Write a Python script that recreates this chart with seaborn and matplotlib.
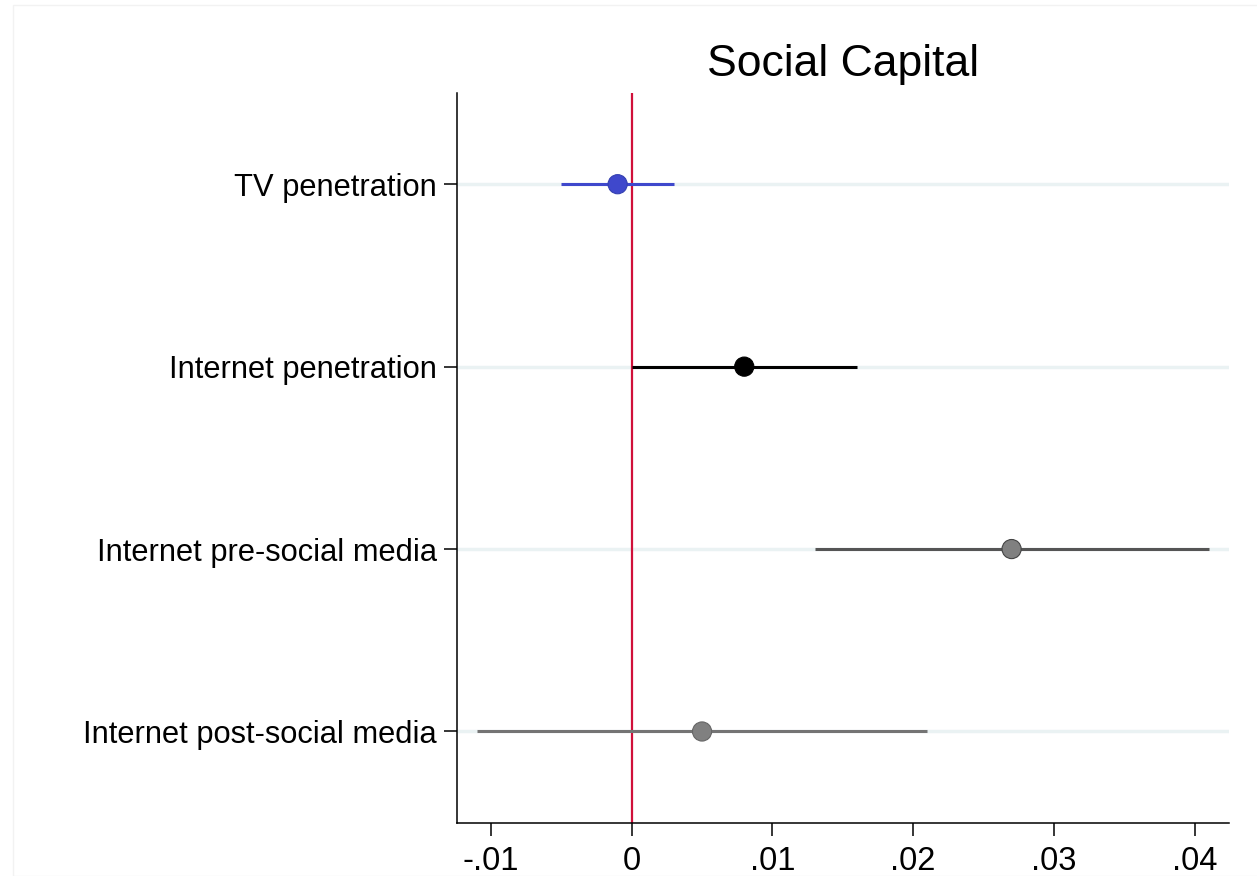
import numpy as np
import pandas as pd
import matplotlib
matplotlib.use("Agg")
import matplotlib.pyplot as plt
import seaborn as sns
from matplotlib.patches import Rectangle

# coefficient estimates and 95% intervals
labels = ['TV penetration', 'Internet penetration',
          'Internet pre-social media', 'Internet post-social media']
coef = [-0.001, 0.008, 0.027, 0.005]
ci_low = [-0.005, 0.0, 0.013, -0.011]
ci_high = [0.003, 0.016, 0.041, 0.021]
xticks = [-0.01, 0, 0.01, 0.02, 0.03, 0.04]
xticklabels = ['-.01', '0', '.01', '.02', '.03', '.04']

line_colors = ['#3f48cc', '#000000', '#555555', '#747474']
face_colors = ['#3f48cc', '#000000', '#808080', '#808080']
edge_colors = ['#3440b0', '#000000', '#444444', '#666666']

df = pd.DataFrame({'label': labels, 'coef': coef, 'lo': ci_low, 'hi': ci_high})
df['pos'] = np.arange(len(df))

sns.set_theme(style='white')
plt.rcParams['font.family'] = ['Liberation Sans', 'DejaVu Sans']
plt.rcParams['text.color'] = 'black'
plt.rcParams['xtick.color'] = 'black'
plt.rcParams['ytick.color'] = 'black'
plt.rcParams['axes.labelcolor'] = 'black'

fig = plt.figure(figsize=(12.57, 8.76), dpi=100)
ax = fig.add_axes([457 / 1257, 1 - 822.7 / 876, (1229 - 457) / 1257, (822.7 - 93) / 876])

# faint outer frame of the graph region
fig.patches.append(Rectangle((13 / 1257, 0), 1.2, 1 - 5 / 876, transform=fig.transFigure,
                             fill=False, edgecolor='#f2f2f2', linewidth=1.0, zorder=0))

for p in df['pos']:
    ax.axhline(p, color='#eaf2f3', linewidth=2.5, zorder=0)

ax.axvline(0, color='#d0103a', linewidth=1.6, zorder=1)

for i, row in df.iterrows():
    ax.hlines(row['pos'], row['lo'], row['hi'], color=line_colors[i], linewidth=2.2, zorder=2)

sns.scatterplot(data=df, x='coef', y='pos', hue='label', palette=face_colors,
                s=190, legend=False, ax=ax, zorder=3, linewidth=0.8)
for coll in ax.collections[-1:]:
    coll.set_edgecolors(edge_colors)

ax.set_xlim(-(631.7 - 457) / 14070, (1229 - 631.7) / 14070)
ax.set_ylim(3.5, -0.5)
ax.set_yticks(df['pos'])
ax.set_yticklabels(labels)
ax.set_xticks(xticks)
ax.set_xticklabels(xticklabels)
ax.set_xlabel('')
ax.set_ylabel('')

for side in ['top', 'right']:
    ax.spines[side].set_visible(False)
for side in ['left', 'bottom']:
    ax.spines[side].set_color('black')
    ax.spines[side].set_linewidth(1.1)

ax.tick_params(axis='y', length=9.5, width=1.1, color='black', labelcolor='black', pad=5, labelsize=22.2)
ax.tick_params(axis='x', length=9, width=1.1, color='black', labelcolor='black', pad=8, labelsize=23.5)
ax.tick_params(left=True, bottom=True)

ax.set_title('Social Capital', fontsize=32, pad=12, color='black')

fig.savefig('out.png', dpi=100, facecolor='white')
